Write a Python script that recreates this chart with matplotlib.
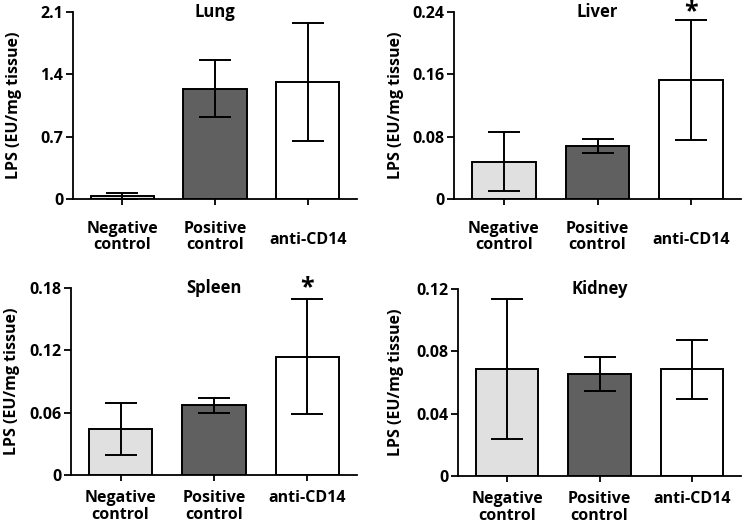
import matplotlib
matplotlib.use('Agg')
import matplotlib.pyplot as plt
import matplotlib.transforms as mtransforms
import numpy as np

plt.rcParams['font.family'] = ['Open Sans', 'DejaVu Sans']
plt.rcParams['font.weight'] = 'bold'

# Data
groups = ['Negative\ncontrol', 'Positive\ncontrol', 'anti-CD14']
bar_colors = ['#e0e0e0', '#606060', '#ffffff']

lung_mean = [0.035, 1.237, 1.312]
lung_err = [0.035, 0.32, 0.66]
liver_mean = [0.048, 0.068, 0.153]
liver_err = [0.038, 0.009, 0.077]
spleen_mean = [0.044, 0.067, 0.114]
spleen_err = [0.025, 0.0072, 0.055]
kidney_mean = [0.0686, 0.0654, 0.0686]
kidney_err = [0.0447, 0.011, 0.019]

panels = [
    # title, means, errors, ymax, yticks, ticklabels, star, rect, labelx, xpad, centre single label
    ('Lung', lung_mean, lung_err, 2.1, [0, 0.7, 1.4, 2.1], ['0', '0.7', '1.4', '2.1'], False,
     [0.0984, 0.621, 0.3827, 0.3562], -0.18, 11, True),
    ('Liver', liver_mean, liver_err, 0.24, [0, 0.08, 0.16, 0.24], ['0', '0.08', '0.16', '0.24'], True,
     [0.6119, 0.621, 0.3868, 0.3562], -0.174, 11, True),
    ('Spleen', spleen_mean, spleen_err, 0.18, [0, 0.06, 0.12, 0.18], ['0', '0.06', '0.12', '0.18'], True,
     [0.0957, 0.0952, 0.3854, 0.3562], -0.178, 6.5, False),
    ('Kidney', kidney_mean, kidney_err, 0.12, [0, 0.04, 0.08, 0.12], ['0', '0.04', '0.08', '0.12'], False,
     [0.6173, 0.0933, 0.3814, 0.3562], -0.191, 6.5, False),
]

fig = plt.figure(figsize=(7.42, 5.25), dpi=100)
x = np.arange(len(groups))
fs = 11.5

for title, means, errs, ymax, yticks, ylabels, star, rect, labelx, xpad, centre in panels:
    ax = fig.add_axes(rect)
    ax.bar(x, means, width=0.68, color=bar_colors, edgecolor='black', linewidth=1.4, zorder=2)
    ax.errorbar(x, means, yerr=errs, fmt='none', ecolor='black', elinewidth=1.4,
                capsize=11.5, capthick=1.4, zorder=3)
    ax.set_xlim(-0.53, 2.53)
    ax.set_ylim(0, ymax)
    ax.set_yticks(yticks)
    ax.set_yticklabels(ylabels)
    ax.set_xticks(x)
    ax.set_xticklabels(groups, linespacing=1.05)
    for s in ['top', 'right']:
        ax.spines[s].set_visible(False)
    for s in ['left', 'bottom']:
        ax.spines[s].set_linewidth(1.3)
    ax.tick_params(axis='y', direction='out', length=5, width=1.3, pad=2, labelsize=fs)
    ax.tick_params(axis='x', direction='out', length=4.5, width=1.3, pad=xpad, labelsize=fs)
    for lab in ax.get_xticklabels() + ax.get_yticklabels():
        lab.set_fontweight('bold')
    if centre:
        # single-line label sits half a line lower in the top row
        lab = ax.get_xticklabels()[2]
        lab.set_transform(lab.get_transform() +
                          mtransforms.ScaledTranslation(0, -0.11, fig.dpi_scale_trans))
    ax.set_ylabel('LPS (EU/mg tissue)', fontsize=fs, fontweight='bold')
    ax.yaxis.set_label_coords(labelx, 0.5)
    ax.text(0.5, 1.0, title, transform=ax.transAxes, ha='center', va='center',
            fontsize=12, fontweight='bold')
    if star:
        ax.text(x[2], ymax, '*', ha='center', va='center', fontsize=18, fontweight='bold')

fig.savefig('out.png', dpi=100)
